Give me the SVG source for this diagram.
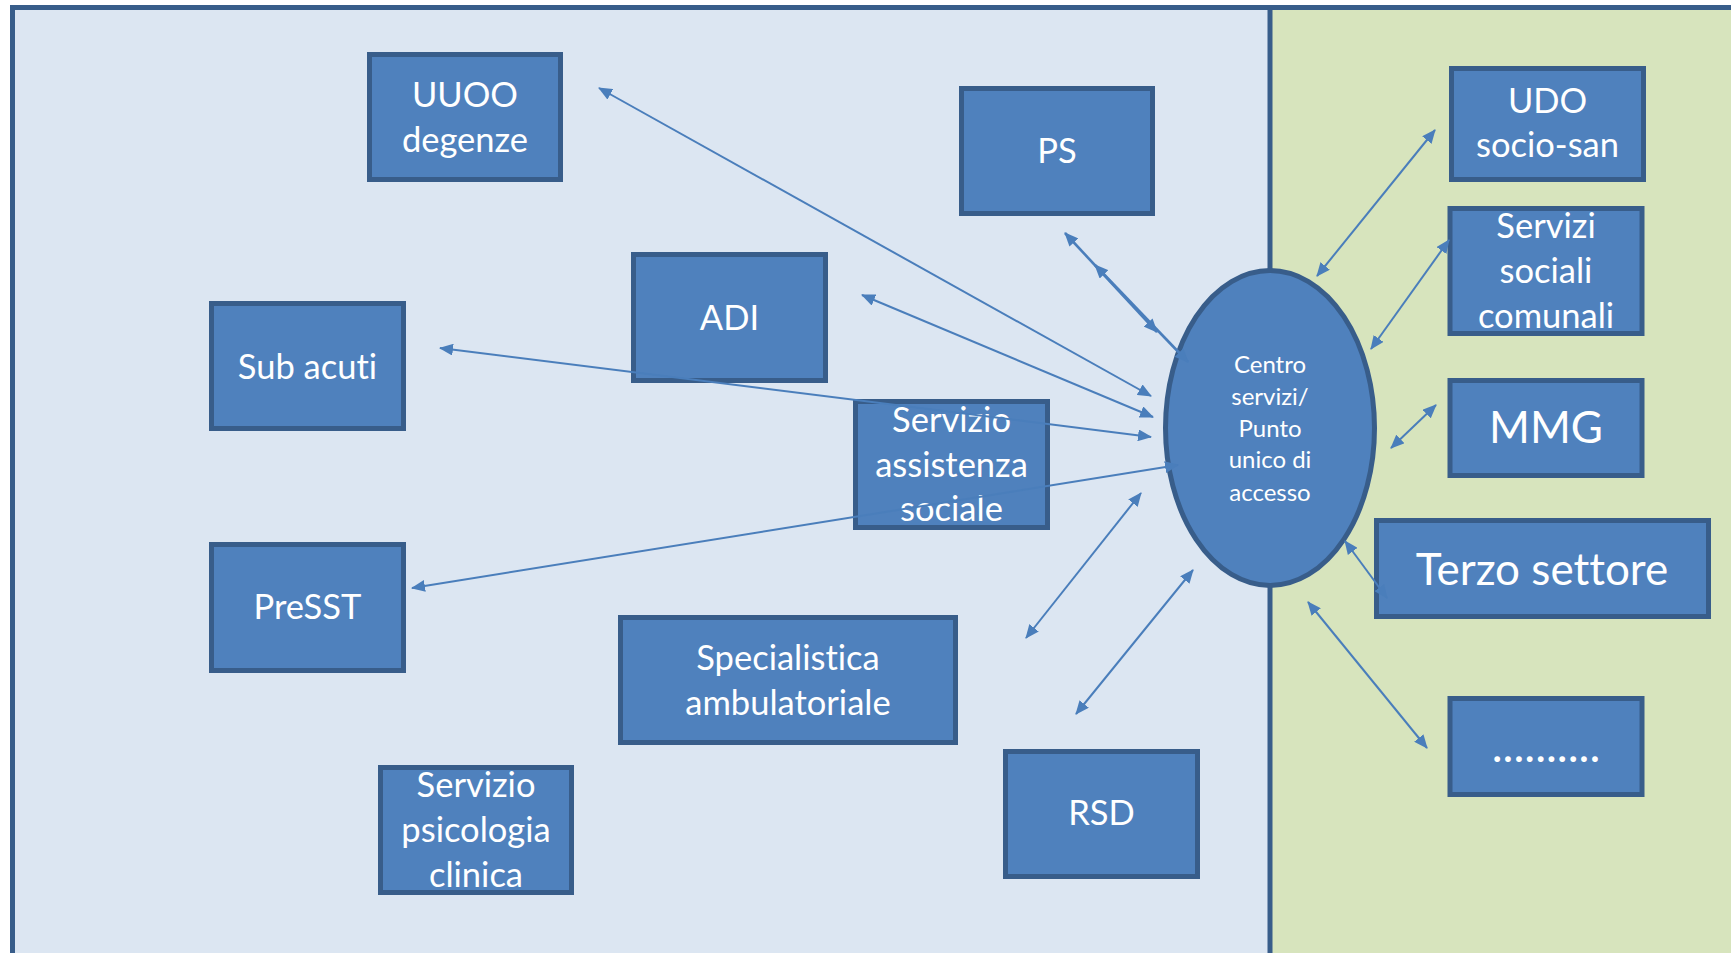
<svg xmlns="http://www.w3.org/2000/svg" width="1731" height="953" viewBox="0 0 1731 953">
<defs>
<style>
.node rect{fill:#4F81BD;stroke:#385D8A;stroke-width:5}
.node ellipse{fill:#4F81BD;stroke:#385D8A;stroke-width:5}
.node text{fill:#FFFFFF;font-family:Lato,"Open Sans",sans-serif;font-size:34.5px;text-anchor:middle;font-variant-ligatures:none;font-feature-settings:"liga" 0,"clig" 0}
.node text.big{font-size:44px}
.node text.dots{font-size:46px}
.node text.small{font-size:24px}
#connectors line{stroke:#4A7EBB;stroke-width:2;marker-start:url(#ah);marker-end:url(#ah)}
#connectors line.thick{stroke-width:2.6}
</style>
<marker id="ah" viewBox="0 0 14 12" refX="13" refY="6" markerWidth="14" markerHeight="12" markerUnits="userSpaceOnUse" orient="auto-start-reverse">
<path d="M0,0 L14,6 L0,12 z" fill="#4A7EBB"/>
</marker>
</defs>
<rect x="0" y="0" width="1731" height="953" fill="#FFFFFF"/>
<g id="background">
<rect x="12.5" y="7.5" width="1257.5" height="946" fill="#DCE6F2"/>
<rect x="1270" y="7.5" width="461" height="946" fill="#D7E4BD"/>
<path d="M12.5,953 L12.5,7.5 L1731,7.5" fill="none" stroke="#385D8A" stroke-width="5"/>
<line x1="1270" y1="7.5" x2="1270" y2="953" stroke="#385D8A" stroke-width="5"/>
</g>
<g id="n-uuoo" class="node"><rect x="369.5" y="54.5" width="191" height="125"/><text x="465" y="107">UUOO</text><text x="465" y="152">degenze</text></g>
<g id="n-subacuti" class="node"><rect x="211.5" y="303.5" width="192" height="125"/><text x="307.5" y="379">Sub acuti</text></g>
<g id="n-ps" class="node"><rect x="961.5" y="88.5" width="191" height="125"/><text x="1057" y="163">PS</text></g>
<g id="n-adi" class="node"><rect x="633.5" y="254.5" width="192" height="126"/><text x="729.5" y="330">ADI</text></g>
<g id="n-sas" class="node"><rect x="855.5" y="401.5" width="192" height="126"/><text x="951.5" y="432">Servizio</text><text x="951.5" y="477">assistenza</text><text x="951.5" y="521">sociale</text></g>
<g id="n-presst" class="node"><rect x="211.5" y="544.5" width="192" height="126"/><text x="307.5" y="619">PreSST</text></g>
<g id="n-psico" class="node"><rect x="380.5" y="767.5" width="191" height="125"/><text x="476" y="797">Servizio</text><text x="476" y="842">psicologia</text><text x="476" y="887">clinica</text></g>
<g id="n-spec" class="node"><rect x="620.5" y="617.5" width="335" height="125"/><text x="788" y="670">Specialistica</text><text x="788" y="715">ambulatoriale</text></g>
<g id="n-rsd" class="node"><rect x="1005.5" y="751.5" width="192" height="125"/><text x="1101.5" y="825">RSD</text></g>
<g id="n-udo" class="node"><rect x="1451.5" y="68.5" width="192" height="111"/><text x="1547.5" y="113">UDO</text><text x="1547.5" y="157">socio-san</text></g>
<g id="n-ssc" class="node"><rect x="1450" y="208.5" width="192" height="125"/><text x="1546" y="238">Servizi</text><text x="1546" y="283">sociali</text><text x="1546" y="328">comunali</text></g>
<g id="n-mmg" class="node"><rect x="1450" y="380.5" width="192" height="95"/><text class="big" x="1546" y="443">MMG</text></g>
<g id="n-terzo" class="node"><rect x="1376.5" y="520.5" width="332" height="96"/><text class="big" x="1542" y="585">Terzo settore</text></g>
<g id="n-dots" class="node"><rect x="1450" y="698.5" width="192" height="96"/><text class="dots" x="1546" y="762">..........</text></g>
<g id="n-centro" class="node"><ellipse cx="1270" cy="428" rx="104.5" ry="157.5"/><text class="small" x="1270" y="373">Centro</text><text class="small" x="1270" y="405">servizi/</text><text class="small" x="1270" y="437">Punto</text><text class="small" x="1270" y="468">unico di</text><text class="small" x="1270" y="501">accesso</text></g>
<g id="connectors">
<line x1="599" y1="88" x2="1151" y2="396"/>
<line x1="862" y1="295" x2="1153" y2="417"/>
<line class="thick" x1="1065" y1="233" x2="1157" y2="332"/>
<line class="thick" x1="1095" y1="265" x2="1188" y2="362"/>
<line x1="440" y1="348" x2="1151" y2="437"/>
<line x1="412" y1="588" x2="1178" y2="465"/>
<line x1="1026" y1="638" x2="1141" y2="493"/>
<line x1="1076" y1="714" x2="1193" y2="570"/>
<line x1="1435" y1="130" x2="1317" y2="276"/>
<line x1="1449" y1="240" x2="1371" y2="349"/>
<line x1="1436" y1="405" x2="1391" y2="448"/>
<line x1="1345" y1="541" x2="1387" y2="598"/>
<line x1="1308" y1="602" x2="1427" y2="748"/>
</g>
</svg>
